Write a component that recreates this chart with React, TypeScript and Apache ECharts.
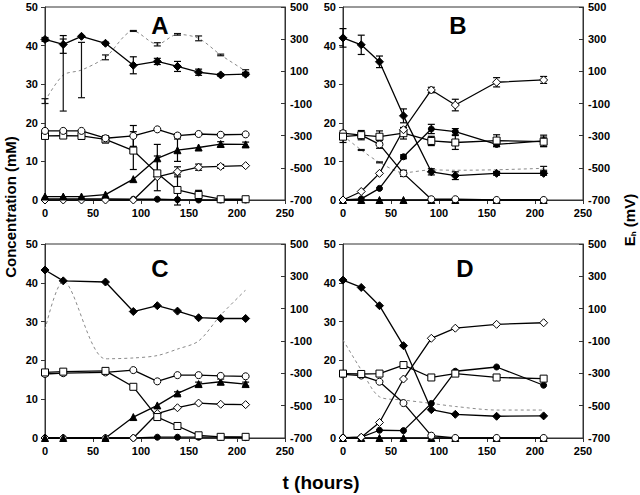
import React, { useEffect, useRef } from "react";
import * as echarts from "echarts";

// ---------- Panel A ----------
const tA = [0, 19, 38, 63, 92, 117, 138, 160, 183, 209];
const diamondA = [41.6, 40.3, 42.4, 40.6, 34.9, 35.9, 34.6, 33.1, 32.4, 32.6];
const diamondA_err = [0.5, 2.3, 0, 0.3, 2.2, 0.8, 1.3, 0.8, 0.3, 0.4];
const circleOpenA = [17.9, 17.9, 17.9, 16.0, 16.6, 18.3, 16.7, 17.1, 16.9, 17.0];
const circleOpenA_err = [0, 0, 0, 0, 2.7, 0, 0.5, 0.3, 0.3, 0];
const squareA = [16.6, 16.7, 16.6, 15.7, 12.8, 6.9, 2.6, 1.3, 0.2, 0.2];
const squareA_err = [0, 0, 0.9, 0.9, 4.9, 4.5, 3.9, 1.2, 0, 0];
const triangleA = [0.9, 0.9, 0.9, 1.4, 5.4, 10.8, 12.9, 13.6, 14.5, 14.4];
const triangleA_err = [0, 0, 0, 0, 0, 3.6, 2.9, 0, 0.6, 0.6];
const diamondOpenA = [0, 0, 0, 0, 0, 6.0, 7.3, 8.5, 8.7, 8.9];
const diamondOpenA_err = [0, 0, 0, 0, 0, 0, 1.3, 0.8, 0.5, 0];
const circleA = [0.3, 0.3, 0.3, 0.3, 0.2, 0.2, 0.1, 0, 0, 0];
const ehA = [-85, 77, 108, 187, 351, 268, 330, 305, 202, 102];
const ehA_err = [15, 224, 172, 15, 3, 10, 5, 15, 5, 8];

// ---------- Panel B ----------
const tB = [0, 19, 38, 63, 92, 117, 160, 209];
const diamondB = [42.0, 40.2, 35.8, 21.8, 7.3, 6.3, 6.9, 6.9];
const diamondB_err = [2.4, 2.5, 1.5, 1.8, 0.8, 1.0, 0.5, 0.5];
const diamondOpenB = [0, 2.2, 6.9, 18.2, 28.5, 24.6, 30.5, 31.1];
const diamondOpenB_err = [0, 0, 0, 0, 0.7, 1.5, 1.2, 0.9];
const squareB = [16.4, 16.8, 16.4, 17.3, 15.3, 14.9, 15.4, 15.1];
const squareB_err = [1.5, 1.2, 1.5, 1.5, 1.2, 1.8, 1.5, 1.2];
const circleB = [0, 0.3, 3.0, 11.2, 18.4, 17.7, 14.4, 15.3];
const circleB_err = [0, 0, 0, 0.5, 1.2, 0.8, 0.6, 1.5];
const circleOpenB = [17.3, 16.8, 14.4, 6.9, 0.2, 0.2, 0, 0];
const circleOpenB_err = [0, 0, 1.0, 0.8, 0, 0, 0, 0];
const triangleB = [0, 0, 0, 0, 0, 0, 0, 0];
const ehB = [-300, -389, -466, -530, -513, -515, -512, -503];
const ehB_err = [0, 3, 3, 0, 0, 0, 0, 12];

// ---------- Panel C ----------
const tC = [0, 19, 63, 92, 117, 138, 160, 183, 209];
const diamondC = [43.3, 40.5, 40.2, 32.6, 34.1, 32.7, 31.0, 30.8, 30.8];
const circleOpenC = [16.5, 16.7, 16.9, 17.5, 14.6, 16.2, 16.2, 16.0, 15.9];
const squareC = [16.9, 17.1, 17.3, 13.2, 5.4, 3.1, 0.7, 0.3, 0.3];
const triangleC = [0, 0, 0, 5.4, 8.4, 11.5, 13.9, 14.5, 13.9];
const triangleC_err = [0, 0, 0, 0, 0, 0.4, 0.5, 0.7, 0.5];
const diamondOpenC = [0, 0, 0, 0, 6.3, 7.8, 9.0, 8.7, 8.6];
const circleC = [0, 0, 0, 0, 0.2, 0.2, 0.2, 0.2, 0.1];
const ehC = [-30, 270, -210, -205, -190, -150, -100, 60, 215];

// ---------- Panel D ----------
const tD = [0, 19, 38, 63, 92, 117, 160, 209];
const diamondD = [40.7, 38.8, 34.1, 23.8, 7.3, 6.1, 5.6, 5.7];
const diamondOpenD = [0, 0.2, 4.0, 15.2, 25.7, 28.3, 29.3, 29.7];
const squareD = [16.6, 16.5, 16.6, 18.8, 15.6, 16.6, 15.6, 15.3];
const circleD = [0.1, 0.2, 2.0, 1.9, 8.9, 17.2, 18.3, 13.6];
const circleOpenD = [16.4, 16.1, 14.5, 9.0, 0.6, 0, 0, 0];
const triangleD = [0, 0, 0, 0, 0, 0, 0, 0];
const ehD = [-93, -279, -445, -465, -486, -505, -527, -527];

// ---------- axis ticks ----------
const xTicks = [0, 50, 100, 150, 200, 250];
const concTicks = [0, 10, 20, 30, 40, 50];
const ehTicks = [-700, -500, -300, -100, 100, 300, 500];
const panelLetters = ["A", "B", "C", "D"];

type S = { v: number[]; e?: number[]; sym: string; fill: boolean; size: number };
type P = { t: number[]; s: S[]; eh: number[]; ehE?: number[] };

const FONT = "'Liberation Sans', Arial, Helvetica, sans-serif";

const panels: P[] = [
  {
    t: tA,
    eh: ehA,
    ehE: ehA_err,
    s: [
      { v: circleA, sym: "circle", fill: true, size: 6 },
      { v: diamondOpenA, e: diamondOpenA_err, sym: "diamond", fill: false, size: 8 },
      { v: triangleA, e: triangleA_err, sym: "triangle", fill: true, size: 7 },
      { v: squareA, e: squareA_err, sym: "rect", fill: false, size: 7 },
      { v: circleOpenA, e: circleOpenA_err, sym: "circle", fill: false, size: 7 },
      { v: diamondA, e: diamondA_err, sym: "diamond", fill: true, size: 8 },
    ],
  },
  {
    t: tB,
    eh: ehB,
    ehE: ehB_err,
    s: [
      { v: triangleB, sym: "triangle", fill: true, size: 7 },
      { v: circleOpenB, e: circleOpenB_err, sym: "circle", fill: false, size: 7 },
      { v: circleB, e: circleB_err, sym: "circle", fill: true, size: 6 },
      { v: squareB, e: squareB_err, sym: "rect", fill: false, size: 7 },
      { v: diamondOpenB, e: diamondOpenB_err, sym: "diamond", fill: false, size: 8 },
      { v: diamondB, e: diamondB_err, sym: "diamond", fill: true, size: 8 },
    ],
  },
  {
    t: tC,
    eh: ehC,
    s: [
      { v: circleC, sym: "circle", fill: true, size: 6 },
      { v: diamondOpenC, sym: "diamond", fill: false, size: 8 },
      { v: triangleC, e: triangleC_err, sym: "triangle", fill: true, size: 7 },
      { v: circleOpenC, sym: "circle", fill: false, size: 7 },
      { v: squareC, sym: "rect", fill: false, size: 7 },
      { v: diamondC, sym: "diamond", fill: true, size: 8 },
    ],
  },
  {
    t: tD,
    eh: ehD,
    s: [
      { v: triangleD, sym: "triangle", fill: true, size: 7 },
      { v: circleOpenD, sym: "circle", fill: false, size: 7 },
      { v: circleD, sym: "circle", fill: true, size: 6 },
      { v: squareD, sym: "rect", fill: false, size: 7 },
      { v: diamondOpenD, sym: "diamond", fill: false, size: 8 },
      { v: diamondD, sym: "diamond", fill: true, size: 8 },
    ],
  },
];

const gridBoxes = [
  { left: 45, top: 7, width: 240, height: 193 },
  { left: 343, top: 7, width: 240, height: 193 },
  { left: 45, top: 244, width: 240, height: 194 },
  { left: 343, top: 244, width: 240, height: 194 },
];
const letterPos = [
  [160, 25],
  [458, 25],
  [160, 268],
  [465, 268],
];

function errorSeries(xi: number, yi: number, t: number[], v: number[], e: number[], color: string) {
  return {
    type: "custom",
    xAxisIndex: xi,
    yAxisIndex: yi,
    z: 2,
    silent: true,
    clip: false,
    encode: { x: 0, y: 1 },
    data: t.map((tt, k) => [tt, v[k], e[k]]).filter((d) => d[2] > 0),
    renderItem: (params: any, api: any) => {
      const x = api.value(0);
      const y = api.value(1);
      const er = api.value(2);
      const top = api.coord([x, y + er]);
      const bot = api.coord([x, y - er]);
      const hw = 3.5;
      const st = { stroke: color, lineWidth: 1.2 };
      return {
        type: "group",
        children: [
          { type: "line", shape: { x1: top[0], y1: top[1], x2: bot[0], y2: bot[1] }, style: st },
          { type: "line", shape: { x1: top[0] - hw, y1: top[1], x2: top[0] + hw, y2: top[1] }, style: st },
          { type: "line", shape: { x1: bot[0] - hw, y1: bot[1], x2: bot[0] + hw, y2: bot[1] }, style: st },
        ],
      };
    },
  };
}

function buildOption() {
  const labelStyle = { color: "#000", fontWeight: "bold", fontSize: 11, fontFamily: FONT };
  const grid = gridBoxes.map((g) => ({ ...g, show: true, borderColor: "#333", borderWidth: 1, backgroundColor: "transparent" }));
  const xAxis = gridBoxes.map((_, i) => ({
    type: "value",
    gridIndex: i,
    min: xTicks[0],
    max: xTicks[xTicks.length - 1],
    interval: xTicks[1] - xTicks[0],
    axisLine: { show: true, lineStyle: { color: "#333", width: 1 } },
    axisTick: { show: true, length: 4, lineStyle: { color: "#333" } },
    splitLine: { show: false },
    axisLabel: { ...labelStyle, margin: 7 },
  }));
  const yAxis: any[] = [];
  gridBoxes.forEach((_, i) => {
    yAxis.push({
      type: "value",
      gridIndex: i,
      position: "left",
      min: concTicks[0],
      max: concTicks[concTicks.length - 1],
      interval: concTicks[1] - concTicks[0],
      axisLine: { show: true, lineStyle: { color: "#333", width: 1 } },
      axisTick: { show: true, length: 4, lineStyle: { color: "#333" } },
      splitLine: { show: false },
      axisLabel: { ...labelStyle, margin: 7 },
    });
    yAxis.push({
      type: "value",
      gridIndex: i,
      position: "right",
      min: ehTicks[0],
      max: ehTicks[ehTicks.length - 1],
      interval: ehTicks[1] - ehTicks[0],
      axisLine: { show: true, lineStyle: { color: "#333", width: 1 } },
      axisTick: { show: true, inside: true, length: 4, lineStyle: { color: "#333" } },
      splitLine: { show: false },
      axisLabel: { ...labelStyle, margin: 5 },
    });
  });

  const series: any[] = [];
  panels.forEach((p, i) => {
    series.push({
      type: "line",
      xAxisIndex: i,
      yAxisIndex: 2 * i + 1,
      data: p.t.map((t, k) => [t, p.eh[k]]),
      symbol: "none",
      smooth: 0.3,
      z: 1,
      silent: true,
      lineStyle: { color: "#8a8a8a", width: 1, type: [3, 3] },
    });
    if (p.ehE) series.push(errorSeries(i, 2 * i + 1, p.t, p.eh, p.ehE, "#111"));
    p.s.forEach((s) => {
      if (s.e) series.push(errorSeries(i, 2 * i, p.t, s.v, s.e, "#000"));
    });
    p.s.forEach((s) => {
      series.push({
        type: "line",
        xAxisIndex: i,
        yAxisIndex: 2 * i,
        data: p.t.map((t, k) => [t, s.v[k]]),
        symbol: s.sym,
        symbolSize: s.size,
        showSymbol: true,
        showAllSymbol: true,
        clip: false,
        z: 3,
        silent: true,
        lineStyle: { color: "#000", width: 1.3 },
        itemStyle: { color: s.fill ? "#000" : "#fff", borderColor: "#000", borderWidth: 1 },
      });
    });
  });

  const graphic: any[] = [
    {
      type: "text",
      x: 10,
      y: 207,
      rotation: Math.PI / 2,
      style: {
        text: "Concentration (mM)",
        font: `bold 15px ${FONT}`,
        fill: "#000",
        textAlign: "center",
        textVerticalAlign: "middle",
      },
    },
    {
      type: "text",
      x: 628,
      y: 220,
      rotation: Math.PI / 2,
      style: {
        text: "{e|E}{h|h}{m| (mV)}",
        fill: "#000",
        textAlign: "center",
        textVerticalAlign: "middle",
        rich: {
          e: { fontWeight: "bold", fontSize: 15, fontFamily: FONT, fill: "#000", lineHeight: 18, verticalAlign: "bottom" },
          h: { fontWeight: "bold", fontSize: 8, fontFamily: FONT, fill: "#000", lineHeight: 18, verticalAlign: "bottom" },
          m: { fontWeight: "bold", fontSize: 15, fontFamily: FONT, fill: "#000", lineHeight: 18, verticalAlign: "bottom" },
        },
      },
    },
    {
      type: "text",
      x: 321,
      y: 482,
      style: {
        text: "t (hours)",
        font: `bold 19px ${FONT}`,
        fill: "#000",
        textAlign: "center",
        textVerticalAlign: "middle",
      },
    },
  ];
  panelLetters.forEach((L, i) => {
    graphic.push({
      type: "text",
      x: letterPos[i][0],
      y: letterPos[i][1],
      z: 10,
      style: {
        text: L,
        font: `bold 24px ${FONT}`,
        fill: "#000",
        textAlign: "center",
        textVerticalAlign: "middle",
      },
    });
  });

  return {
    animation: false,
    backgroundColor: "#fff",
    grid,
    xAxis,
    yAxis,
    series,
    graphic,
  };
}

export default function App() {
  const ref = useRef<HTMLDivElement>(null);
  useEffect(() => {
    const chart = echarts.init(ref.current as HTMLDivElement, null, { renderer: "svg" });
    chart.setOption(buildOption() as any);
    return () => chart.dispose();
  }, []);
  return (
    <div
      ref={ref}
      style={{ position: "absolute", left: 0, top: 0, width: 640, height: 495, background: "#fff" }}
    />
  );
}
